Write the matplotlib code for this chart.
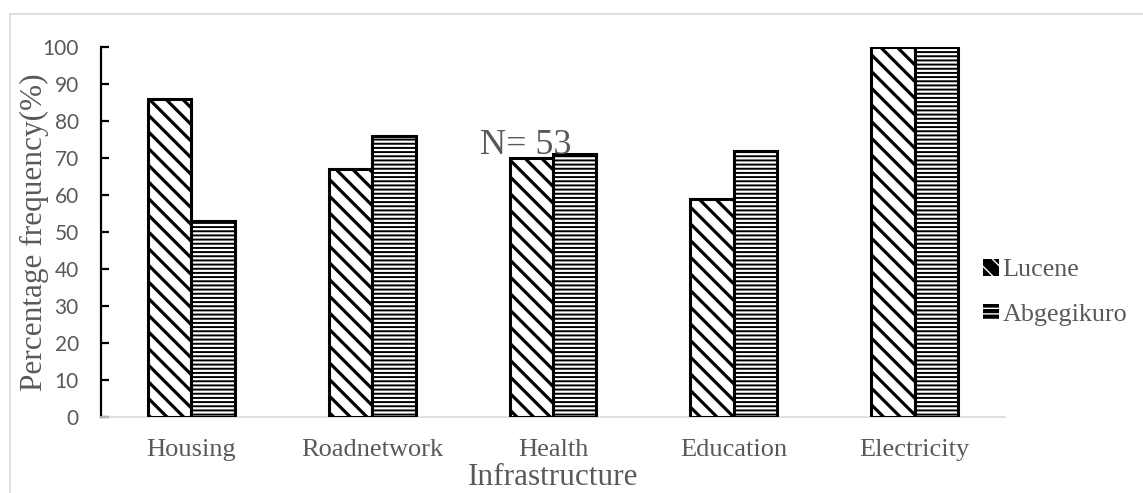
import matplotlib
matplotlib.use("Agg")
import matplotlib.pyplot as plt
import numpy as np
from matplotlib.patches import Patch
from matplotlib.lines import Line2D

categories = ["Housing", "Roadnetwork", "Health", "Education", "Electricity"]
lucene = [86, 67, 70, 59, 100]
abgegikuro = [53, 76, 71, 72, 100]
yticks = [0, 10, 20, 30, 40, 50, 60, 70, 80, 90, 100]

GRAY = "#595959"
SERIF = "Liberation Serif"
W, H = 1143, 493

plt.rcParams["hatch.color"] = "black"

fig = plt.figure(figsize=(W / 100, H / 100), dpi=100)
ax = fig.add_axes([101 / W, 1 - 417 / H, 904 / W, 370 / H])

x = np.arange(len(categories))
w = 0.24

with plt.rc_context({"hatch.linewidth": 2.3}):
    b1 = ax.bar(x - w / 2, lucene, w, facecolor="white", edgecolor="black",
                linewidth=2.2, hatch="\\\\", label="Lucene", zorder=3)
with plt.rc_context({"hatch.linewidth": 1.4}):
    b2 = ax.bar(x + w / 2, abgegikuro, w, facecolor="white", edgecolor="black",
                linewidth=2.2, hatch="----", label="Abgegikuro", zorder=3)
for bars, lw in ((b1, 2.3), (b2, 1.4)):
    for p in bars:
        if hasattr(p, "set_hatch_linewidth"):
            p.set_hatch_linewidth(lw)

ax.set_xlim(-0.5, len(categories) - 0.5)
ax.set_ylim(0, 100)
ax.set_yticks(yticks)
ax.set_xticks(x)
ax.set_xticklabels(categories, family=SERIF, fontsize=19, color=GRAY)
for lab in ax.get_yticklabels():
    lab.set_family("Lato")
    lab.set_fontsize(15)
    lab.set_color(GRAY)

for s in ["top", "right"]:
    ax.spines[s].set_visible(False)
ax.spines["left"].set_linewidth(1.6)
ax.spines["left"].set_color("black")
ax.spines["bottom"].set_color("#d9d9d9")
ax.spines["bottom"].set_linewidth(1.2)
ax.tick_params(axis="y", direction="in", length=6, width=1.6, color="black", pad=16)
ax.tick_params(axis="x", length=0, pad=16)

ax.set_ylabel("Percentage frequency(%)", family=SERIF, fontsize=22.5, color=GRAY, labelpad=-5)
ax.set_xlabel("Infrastructure", family=SERIF, fontsize=22.5, color=GRAY, labelpad=1)

ax.text(1.85, 71, "N= 53", family=SERIF, fontsize=26, color=GRAY,
        ha="center", va="baseline", zorder=4)

# legend keys: black squares with white pattern, as in the source
with plt.rc_context({"hatch.linewidth": 1.2}):
    k1 = Patch(facecolor="black", edgecolor="white", linewidth=0, hatch="\\\\")
    k2 = Patch(facecolor="black", edgecolor="white", linewidth=0, hatch="---")
leg = fig.legend(handles=[k1, k2], labels=["Lucene", "Abgegikuro"],
                 loc="upper left", bbox_to_anchor=(983 / W, 1 - 259 / H),
                 frameon=False, prop={"family": SERIF, "size": 18.8},
                 handlelength=0.6, handleheight=0.6, handletextpad=0.15,
                 labelspacing=0.85, borderpad=0, borderaxespad=0)
for t in leg.get_texts():
    t.set_color(GRAY)

# outer chart frame (top and left)
fig.add_artist(Line2D([10 / W, 1], [1 - 14 / H, 1 - 14 / H],
                      transform=fig.transFigure, color="#d9d9d9", lw=1.2))
fig.add_artist(Line2D([10 / W, 10 / W], [0, 1 - 14 / H],
                      transform=fig.transFigure, color="#d9d9d9", lw=1.2))

fig.savefig("out.png", dpi=100)
